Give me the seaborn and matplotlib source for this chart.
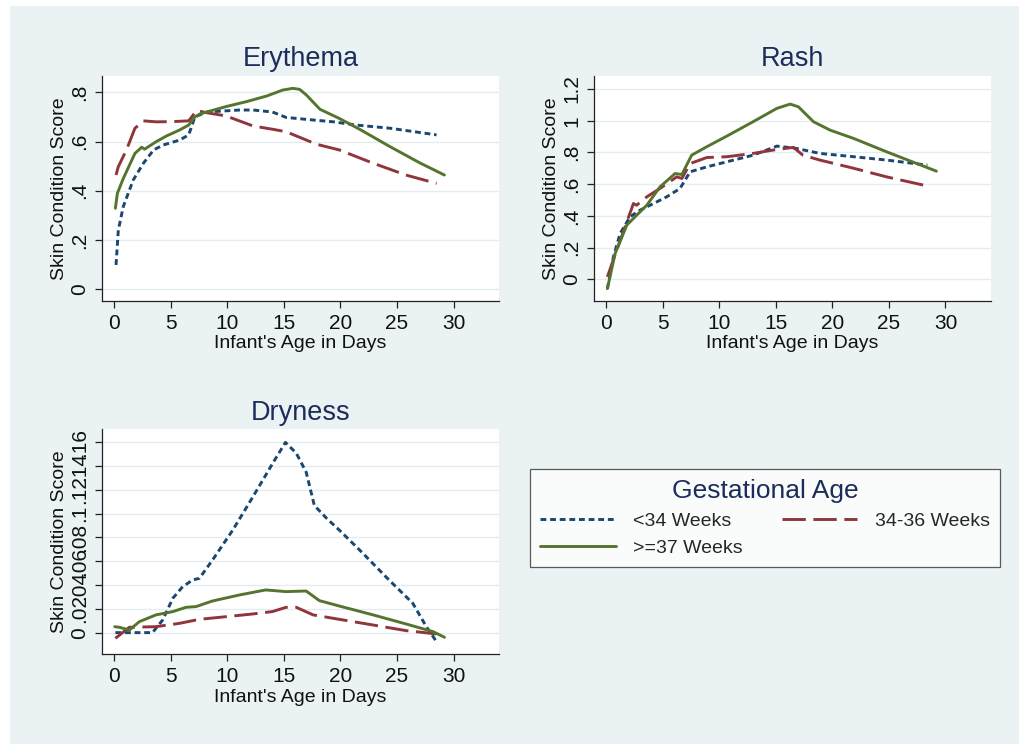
import pandas as pd
import matplotlib.pyplot as plt
import seaborn as sns
from matplotlib.patches import Rectangle
from matplotlib.lines import Line2D

# groups / styles
groups = ["<34 Weeks", "34-36 Weeks", ">=37 Weeks"]
palette = {"<34 Weeks": "#1a476f", "34-36 Weeks": "#90353b", ">=37 Weeks": "#55752f"}
dash_map = {"<34 Weeks": (2.0, 1.3), "34-36 Weeks": (8.0, 2.6), ">=37 Weeks": ""}

# Erythema
ery_x_lt34 = [0.18, 0.38, 0.82, 1.7, 2.6, 3.5, 4.35, 5.8, 6.6, 7.15, 8.2, 11.1, 12.3, 14.0, 15.2, 17.0, 19.4, 21.4, 24.4, 28.5]
ery_y_lt34 = [0.099, 0.24, 0.336, 0.444, 0.512, 0.566, 0.586, 0.606, 0.627, 0.70, 0.72, 0.728, 0.728, 0.72, 0.698, 0.69, 0.68, 0.667, 0.654, 0.627]
ery_x_3436 = [0.18, 0.38, 1.1, 1.85, 2.6, 3.75, 5.2, 6.6, 7.3, 8.2, 9.9, 12.3, 14.0, 15.2, 17.9, 19.9, 22.9, 25.8, 28.5]
ery_y_3436 = [0.464, 0.498, 0.566, 0.654, 0.684, 0.68, 0.681, 0.684, 0.726, 0.717, 0.704, 0.663, 0.65, 0.64, 0.589, 0.566, 0.512, 0.464, 0.43]
ery_x_ge37 = [0.12, 0.3, 0.82, 1.85, 2.45, 2.7, 3.75, 4.65, 5.8, 6.6, 7.15, 7.6, 8.8, 9.9, 11.7, 13.5, 14.9, 15.8, 16.4, 17.0, 18.2, 19.9, 21.7, 24.4, 27.0, 29.2]
ery_y_ge37 = [0.329, 0.39, 0.45, 0.552, 0.577, 0.569, 0.6, 0.623, 0.647, 0.667, 0.70, 0.712, 0.728, 0.742, 0.762, 0.785, 0.809, 0.816, 0.812, 0.789, 0.731, 0.694, 0.65, 0.579, 0.514, 0.464]

# Rash
rash_x_lt34 = [0.12, 0.65, 1.24, 2.12, 3.0, 4.2, 5.36, 6.54, 7.43, 8.9, 10.67, 13.0, 15.1, 16.86, 18.9, 21.9, 24.8, 28.4]
rash_y_lt34 = [-0.059, 0.141, 0.288, 0.394, 0.436, 0.478, 0.52, 0.573, 0.678, 0.709, 0.741, 0.783, 0.84, 0.825, 0.794, 0.773, 0.752, 0.72]
rash_x_3436 = [0.12, 0.94, 1.68, 2.42, 2.7, 3.6, 4.77, 6.25, 6.7, 7.43, 8.9, 10.67, 13.0, 15.1, 16.56, 17.4, 18.9, 21.9, 24.8, 28.5]
rash_y_3436 = [0.015, 0.183, 0.33, 0.478, 0.467, 0.52, 0.573, 0.646, 0.636, 0.73, 0.768, 0.773, 0.794, 0.819, 0.832, 0.783, 0.752, 0.70, 0.646, 0.587]
rash_x_ge37 = [0.12, 0.8, 1.83, 2.56, 3.6, 4.77, 6.1, 6.7, 7.57, 8.9, 10.67, 13.0, 15.1, 16.27, 17.0, 18.33, 19.8, 21.9, 24.8, 29.2]
rash_y_ge37 = [-0.059, 0.162, 0.341, 0.394, 0.467, 0.583, 0.667, 0.661, 0.783, 0.836, 0.903, 0.994, 1.078, 1.105, 1.088, 0.994, 0.941, 0.888, 0.804, 0.682]

# Dryness
dry_x_lt34 = [0.12, 3.4, 4.3, 5.2, 6.07, 6.96, 7.55, 8.7, 10.5, 12.26, 14.0, 15.15, 16.1, 16.98, 17.7, 18.8, 19.9, 21.7, 24.3, 26.4, 27.6, 28.5]
dry_y_lt34 = [0.0, 0.0, 0.0106, 0.0289, 0.0387, 0.0443, 0.0457, 0.061, 0.0863, 0.114, 0.142, 0.16, 0.151, 0.135, 0.107, 0.096, 0.0863, 0.0695, 0.0443, 0.0247, 0.005, -0.0076]
dry_x_3436 = [0.12, 1.36, 3.7, 5.78, 7.55, 9.9, 12.26, 14.0, 15.2, 16.1, 17.6, 19.9, 22.9, 25.8, 28.5]
dry_y_3436 = [-0.0048, 0.0045, 0.005, 0.0078, 0.0112, 0.0134, 0.0157, 0.0177, 0.0213, 0.0213, 0.0149, 0.0112, 0.0064, 0.0017, -0.0011]
dry_x_ge37 = [0.06, 0.47, 1.36, 2.24, 3.7, 5.2, 6.37, 7.25, 8.7, 11.1, 13.4, 15.2, 16.98, 18.15, 19.9, 22.9, 25.8, 28.2, 29.2]
dry_y_ge37 = [0.005, 0.0045, 0.0022, 0.0092, 0.0149, 0.0177, 0.0213, 0.0219, 0.0266, 0.0317, 0.0359, 0.0345, 0.035, 0.0269, 0.0224, 0.0149, 0.0073, 0.0008, -0.0039]

x_ticks = [0, 5, 10, 15, 20, 25, 30]
ery_ticks = [0, 0.2, 0.4, 0.6, 0.8]
ery_labels = ["0", ".2", ".4", ".6", ".8"]
rash_ticks = [0, 0.2, 0.4, 0.6, 0.8, 1.0, 1.2]
rash_labels = ["0", ".2", ".4", ".6", ".8", "1", "1.2"]
dry_ticks = [0, 0.02, 0.04, 0.06, 0.08, 0.10, 0.12, 0.14, 0.16]
dry_labels = ["0", ".02", ".04", ".06", ".08", ".1", ".12", ".14", ".16"]


def long_df(xs, ys):
    rows = []
    for g, x, y in zip(groups, xs, ys):
        rows.append(pd.DataFrame({"day": x, "score": y, "group": g}))
    return pd.concat(rows, ignore_index=True)


sns.set_theme(style="white")
plt.rcParams["font.family"] = ["Liberation Sans", "DejaVu Sans"]

BG = "#eaf2f3"
TITLE_C = "#1c2d5a"
LW = 2.1

fig = plt.figure(figsize=(10.2, 7.44), dpi=100, facecolor="white")
fig.patches.append(Rectangle((10 / 1020, 0), 1, 1 - 6 / 744, transform=fig.transFigure,
                             facecolor=BG, edgecolor="none", zorder=-10))

panels = [
    ("Erythema", [0.1, 0.5954, 0.389, 0.3024], (ery_x_lt34, ery_x_3436, ery_x_ge37),
     (ery_y_lt34, ery_y_3436, ery_y_ge37), ery_ticks, ery_labels, (-0.0475, 0.866)),
    ("Rash", [0.5824, 0.5954, 0.3889, 0.3024], (rash_x_lt34, rash_x_3436, rash_x_ge37),
     (rash_y_lt34, rash_y_3436, rash_y_ge37), rash_ticks, rash_labels, (-0.137, 1.282)),
    ("Dryness", [0.1, 0.1206, 0.389, 0.3024], (dry_x_lt34, dry_x_3436, dry_x_ge37),
     (dry_y_lt34, dry_y_3436, dry_y_ge37), dry_ticks, dry_labels, (-0.0182, 0.171)),
]

for title, rect, xs, ys, yt, yl, ylim in panels:
    ax = fig.add_axes(rect)
    ax.set_facecolor("white")
    df = long_df(xs, ys)
    sns.lineplot(data=df, x="day", y="score", hue="group", style="group",
                 hue_order=groups, style_order=groups, palette=palette, dashes=dash_map,
                 estimator=None, sort=False, linewidth=LW, legend=False, ax=ax)
    ax.set_xlim(-1.06, 34)
    ax.set_ylim(*ylim)
    ax.set_xticks(x_ticks)
    ax.set_xticklabels([str(t) for t in x_ticks])
    ax.set_yticks(yt)
    ax.set_yticklabels(yl, rotation=90, va="center")
    for y in yt:
        ax.axhline(y, color="#e3edf0", linewidth=1.0, zorder=0)
    for s in ["top", "right"]:
        ax.spines[s].set_visible(False)
    for s in ["left", "bottom"]:
        ax.spines[s].set_color("#222222")
        ax.spines[s].set_linewidth(0.9)
    ax.tick_params(axis="both", direction="out", length=5, width=0.9, color="#222222",
                   labelsize=15, labelcolor="#111111", pad=4, left=True, bottom=True)
    ax.set_title(title, fontsize=19.5, color=TITLE_C, pad=7)
    ax.set_xlabel("Infant's Age in Days", fontsize=14, color="#111111", labelpad=2)
    ax.set_ylabel("Skin Condition Score", fontsize=14, color="#111111", labelpad=2)

handles = [
    Line2D([], [], color=palette["<34 Weeks"], linestyle=(0, (2.0, 1.3)), linewidth=LW),
    Line2D([], [], color=palette[">=37 Weeks"], linestyle="-", linewidth=LW),
    Line2D([], [], color=palette["34-36 Weeks"], linestyle=(0, (8.0, 2.6)), linewidth=LW),
]
labels = ["<34 Weeks", ">=37 Weeks", "34-36 Weeks"]
leg = fig.legend(handles, labels, loc="lower left", bbox_to_anchor=(0.52, 0.238, 0.46, 0.134),
                 mode="expand", ncol=2, fontsize=14, title="Gestational Age",
                 title_fontsize=19, frameon=True, fancybox=False, handlelength=3.9,
                 borderaxespad=0, labelspacing=0.5, borderpad=0.5, handletextpad=0.9)
leg.get_title().set_color(TITLE_C)
leg.get_frame().set_edgecolor("#333333")
leg.get_frame().set_linewidth(0.9)
leg.get_frame().set_facecolor("white")

fig.savefig("out.png", dpi=100, facecolor=fig.get_facecolor())
